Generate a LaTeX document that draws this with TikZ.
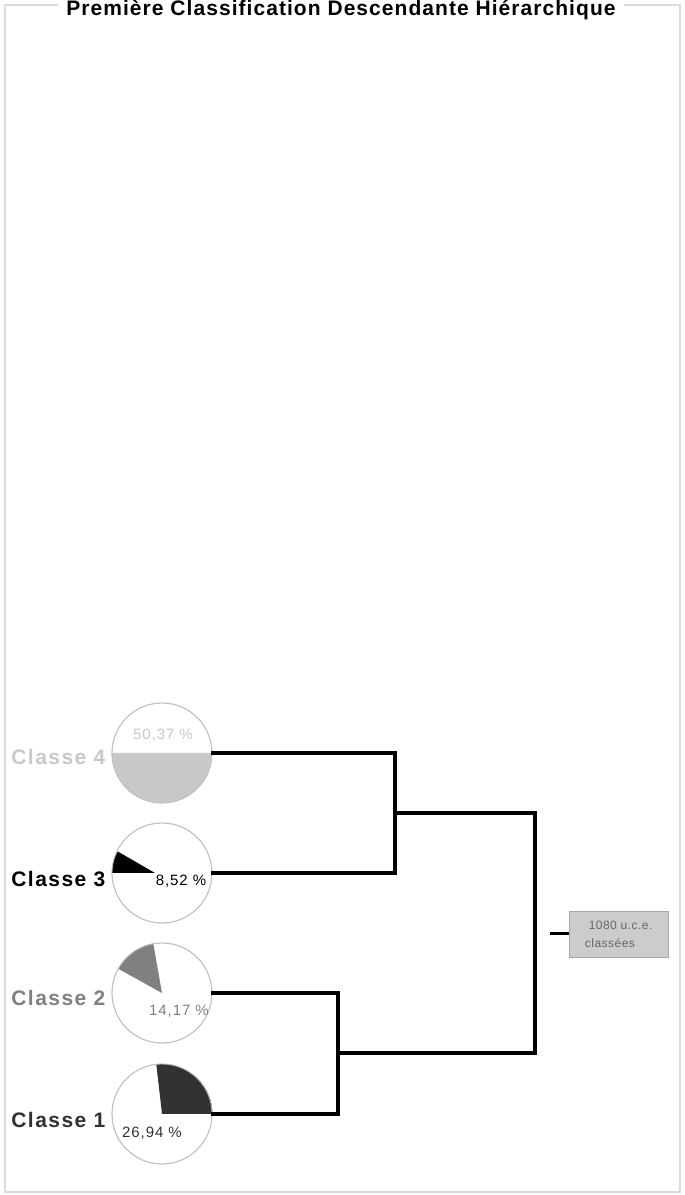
\documentclass[tikz,border=0pt]{standalone}
\usepackage{fontspec}
\setmainfont{Liberation Sans}
\usetikzlibrary{positioning}

\definecolor{cl4}{RGB}{200,200,200}
\definecolor{cl3}{RGB}{0,0,0}
\definecolor{cl2}{RGB}{128,128,128}
\definecolor{cl1}{RGB}{50,50,50}

\begin{document}
\begin{tikzpicture}[
    x=1pt, y=1pt,
    pie/.style={draw=black!25, circle, minimum size=100pt, inner sep=0pt, line width=0.8pt},
    classlabel/.style={font=\fontsize{21}{22}\selectfont\bfseries\addfontfeature{LetterSpace=7}, inner sep=0pt},
    pct/.style={font=\fontsize{15}{16}\selectfont\addfontfeature{LetterSpace=6}, inner sep=0pt},
    branch/.style={line width=3.2pt, line cap=rect}
]
\useasboundingbox (0,0) rectangle (685,1195);
% cadre et titre
\draw[black!14, line width=1.2pt] (5,3) rectangle (680,1190);
\node[fill=white, inner xsep=8pt, inner ysep=3pt, anchor=base,
      font=\fontsize{21}{22}\selectfont\bfseries\addfontfeature{LetterSpace=5}] (title) at (341,1179) {Première Classification Descendante Hiérarchique};

% classes
\node[pie] (c4) at (162,442) {};
\node[pie] (c3) at (162,322) {};
\node[pie] (c2) at (162,202) {};
\node[pie] (c1) at (162,81) {};

\fill[cl4] (c4.center) -- (c4.west) arc[start angle=180, end angle=360, radius=50pt] -- cycle;
\fill[cl3] (c3.center) ++(-7,0) -- ++(-43,0) arc[start angle=180, end angle=150, radius=43pt] -- cycle;
\fill[cl2] (c2.center) -- ++(151:50) arc[start angle=151, end angle=100, radius=50pt] -- cycle;
\fill[cl1] (c1.center) -- (c1.east) arc[start angle=0, end angle=97, radius=50pt] -- cycle;
\draw[black!25, line width=0.8pt] (c4) circle[radius=50pt] (c3) circle[radius=50pt] (c2) circle[radius=50pt] (c1) circle[radius=50pt];

\node[classlabel, cl4, left=6pt of c4, yshift=-4pt] (l4) {Classe 4};
\node[classlabel, cl3, left=6pt of c3, yshift=-6pt] (l3) {Classe 3};
\node[classlabel, cl2, left=6pt of c2, yshift=-5pt] (l2) {Classe 2};
\node[classlabel, cl1, left=6pt of c1, yshift=-6pt] (l1) {Classe 1};

\node[pct, cl4] (p4) at (163,460) {50,37 \%};
\node[pct, cl3] (p3) at (181,314) {8,52 \%};
\node[pct, cl2] (p2) at (179,184) {14,17 \%};
\node[pct, cl1] (p1) at (152,62) {26,94 \%};

% arbre
\coordinate (j34) at (395,382);
\coordinate (j12) at (338,142);
\coordinate (top) at (535,382);
\coordinate (stub) at (550,261);
\draw[branch] (c4.east) -| (j34) |- (c3.east);
\draw[branch] (c2.east) -| (j12) |- (c1.east);
\draw[branch] (j34) -- (top) |- (j12);

\node[draw=black!35, fill=black!20, minimum width=99pt, minimum height=46pt, align=left, text=black!60,
      font=\fontsize{12}{18}\selectfont\addfontfeature{LetterSpace=4}, right=19pt of stub] (total) {\ 1080 u.c.e.\\classées};
\draw[line width=3pt] (stub) -- (total.west);
\end{tikzpicture}
\end{document}
